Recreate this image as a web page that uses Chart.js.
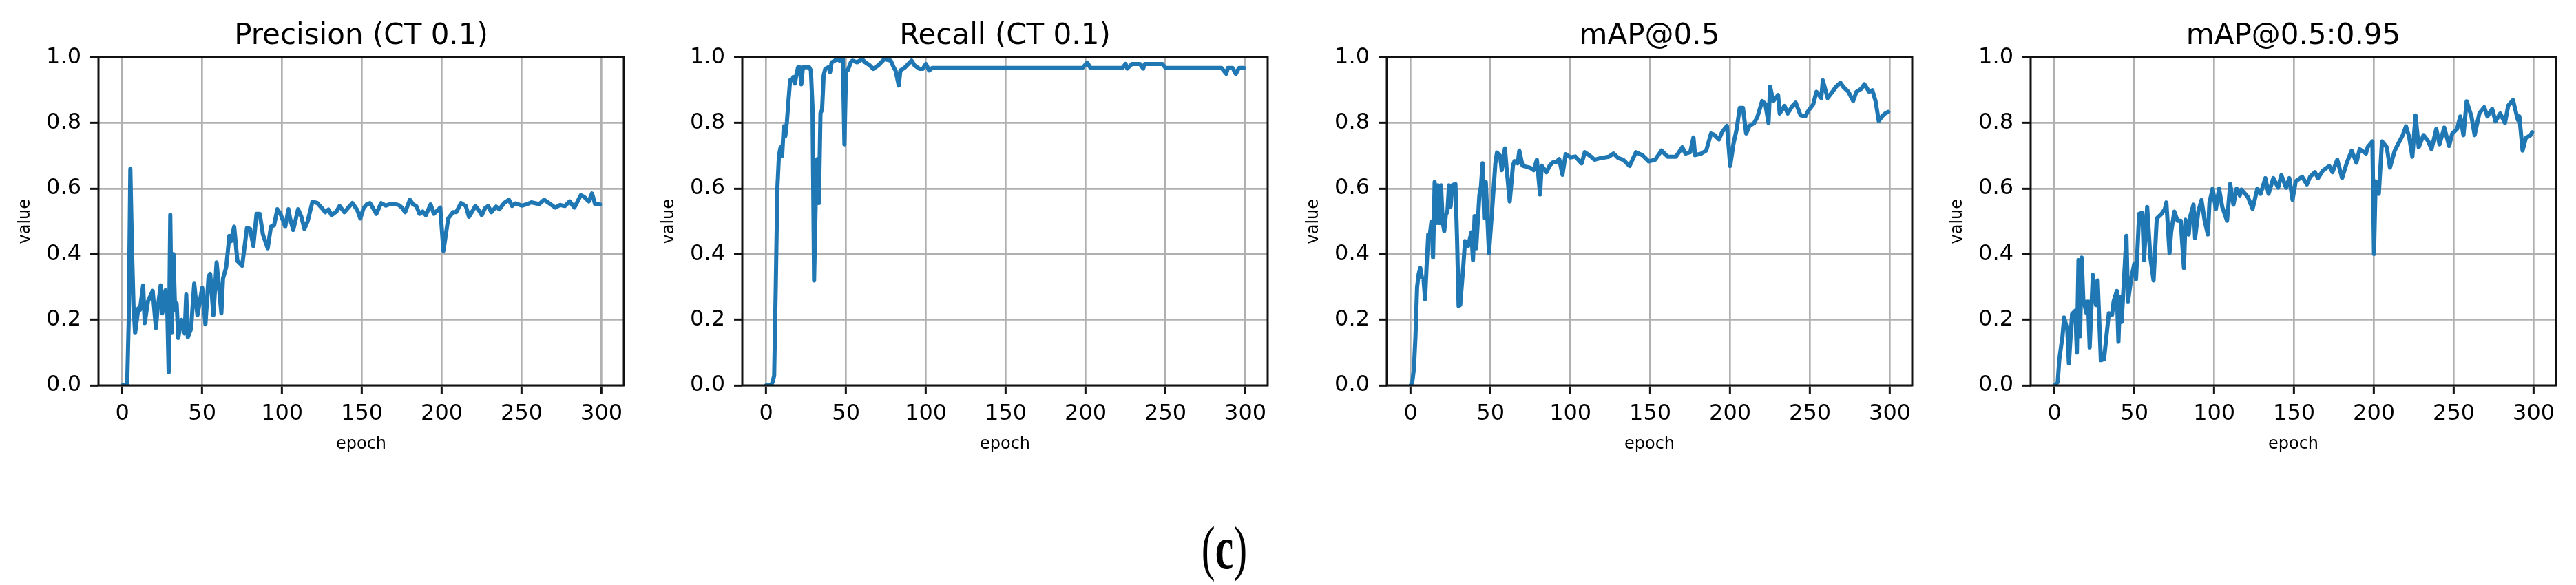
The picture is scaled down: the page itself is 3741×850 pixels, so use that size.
<!DOCTYPE html>
<html>
<head>
<meta charset="utf-8">
<script src="https://cdn.jsdelivr.net/npm/chart.js@4.4.1/dist/chart.umd.min.js"></script>
<style>
  body { margin: 0; background: #fff; width: 3741px; height: 850px; position: relative; overflow: hidden; }
  canvas { position: absolute; top: 0; }
  .caption {
    position: absolute; left: 1778px; top: 797px;
    transform: translate(-50%, -50%) scaleX(0.68);
    font-family: 'Liberation Serif', serif; font-size: 88px; color: #000; line-height: 1;
  }
  .caption b { font-weight: bold; }
</style>
</head>
<body>
<canvas id="p1" width="946" height="680" style="left:0px"></canvas>
<canvas id="p2" width="946" height="680" style="left:935px"></canvas>
<canvas id="p3" width="946" height="680" style="left:1871px"></canvas>
<canvas id="p4" width="946" height="680" style="left:2806px"></canvas>
<div class="caption">(<b>c</b>)</div>
<script>
// values, epoch -> value
const precisionEpochs = [0,1,2,3,4,5,6,7,8,10,11,13,14,16,19,21,22,24,25,27,28,29,30,31,32,33,34,35,37,39,40,41,43,45,47,50,52,54,55,57,59,62,63,65,67,68,70,72,75,78,80,82,84,86,88,91,93,95,97,99,102,104,105,107,110,112,114,116,119,122,125,127,129,131,134,136,139,142,144,147,149,151,153,155,157,159,162,165,167,171,173,175,177,180,182,184,186,188,190,193,195,198,199,201,204,207,209,212,215,217,219,221,223,225,227,229,231,234,236,239,242,244,246,248,250,253,256,258,261,264,267,271,274,277,280,283,287,289,292,294,296,299];
const precisionValues = [0,0,0,0,0.2,0.66,0.42,0.24,0.16,0.235,0.23,0.305,0.19,0.256,0.288,0.175,0.23,0.305,0.22,0.29,0.26,0.04,0.52,0.16,0.40,0.23,0.25,0.145,0.2,0.158,0.277,0.147,0.172,0.31,0.214,0.298,0.186,0.333,0.34,0.214,0.375,0.22,0.326,0.36,0.456,0.44,0.484,0.38,0.365,0.48,0.477,0.425,0.523,0.523,0.46,0.418,0.484,0.488,0.537,0.523,0.484,0.537,0.509,0.474,0.537,0.515,0.477,0.50,0.56,0.556,0.54,0.528,0.536,0.519,0.53,0.547,0.528,0.545,0.556,0.535,0.509,0.54,0.552,0.556,0.54,0.523,0.556,0.548,0.552,0.552,0.55,0.542,0.528,0.566,0.552,0.547,0.523,0.53,0.519,0.552,0.523,0.537,0.542,0.41,0.509,0.528,0.528,0.556,0.547,0.514,0.53,0.547,0.535,0.519,0.54,0.547,0.528,0.545,0.537,0.556,0.566,0.547,0.555,0.552,0.548,0.552,0.558,0.556,0.553,0.566,0.556,0.542,0.55,0.547,0.561,0.542,0.58,0.575,0.561,0.585,0.552,0.552];

const recallEpochs = [0,3,4,5,6,7,8,9,10,11,12,13,14,15,16,17,18,19,20,21,22,23,27,28,29,30,31,32,33,34,35,36,37,39,40,41,43,44,46,48,49,50,51,53,54,57,60,62,65,67,70,74,78,80,81,83,84,87,91,93,96,98,100,102,104,198,201,203,223,225,226,229,234,236,237,248,250,285,288,289,292,294,296,299];
const recallValues = [0,0,0.01,0.03,0.3,0.6,0.7,0.726,0.70,0.79,0.76,0.805,0.87,0.93,0.93,0.94,0.92,0.95,0.97,0.97,0.918,0.97,0.97,0.96,0.85,0.32,0.556,0.69,0.556,0.83,0.84,0.946,0.965,0.97,0.955,0.985,0.99,0.995,0.99,0.995,0.735,0.96,0.96,0.985,0.99,0.985,0.995,0.985,0.975,0.965,0.975,0.995,0.99,0.968,0.96,0.914,0.96,0.97,0.99,0.975,0.965,0.965,0.98,0.96,0.968,0.968,0.984,0.968,0.968,0.98,0.966,0.98,0.98,0.966,0.98,0.98,0.968,0.968,0.95,0.968,0.968,0.95,0.968,0.968];

const map50Epochs = [0,1,2,3,4,5,6,7,8,9,10,11,12,13,14,15,16,17,18,19,20,21,22,23,24,25,26,28,29,30,31,33,34,36,38,39,40,41,43,44,45,46,47,49,51,53,54,56,57,59,60,62,64,65,67,68,70,72,75,77,79,81,82,85,87,89,91,93,95,97,100,103,107,109,113,115,119,124,127,130,133,137,141,145,149,153,157,161,166,170,172,175,177,178,182,185,188,190,193,195,198,200,202,204,206,208,210,212,215,217,220,222,224,225,227,230,231,234,236,239,241,244,247,249,252,254,257,258,261,264,266,269,271,274,277,279,282,284,287,289,291,293,295,297,299];
const map50Values = [0,0.01,0.05,0.15,0.3,0.34,0.358,0.33,0.326,0.263,0.368,0.46,0.46,0.50,0.39,0.62,0.495,0.61,0.495,0.61,0.50,0.47,0.52,0.53,0.61,0.545,0.61,0.614,0.45,0.242,0.245,0.368,0.44,0.425,0.467,0.382,0.516,0.418,0.58,0.607,0.677,0.51,0.62,0.404,0.537,0.677,0.71,0.70,0.656,0.723,0.663,0.561,0.67,0.684,0.677,0.716,0.67,0.667,0.663,0.656,0.688,0.582,0.67,0.65,0.67,0.68,0.68,0.69,0.642,0.705,0.695,0.698,0.677,0.711,0.697,0.688,0.693,0.697,0.707,0.693,0.688,0.669,0.711,0.702,0.683,0.688,0.716,0.697,0.697,0.726,0.707,0.711,0.756,0.702,0.707,0.716,0.768,0.764,0.75,0.773,0.791,0.669,0.735,0.78,0.846,0.846,0.768,0.791,0.80,0.818,0.867,0.858,0.80,0.911,0.867,0.885,0.829,0.852,0.829,0.852,0.862,0.824,0.82,0.838,0.857,0.895,0.876,0.93,0.876,0.895,0.909,0.923,0.909,0.895,0.867,0.895,0.904,0.918,0.895,0.9,0.867,0.806,0.82,0.829,0.834];

const map5095Epochs = [0,2,3,5,6,8,9,10,11,13,14,15,16,17,18,20,21,22,24,26,27,29,31,34,36,37,39,40,41,42,44,45,46,48,50,51,53,55,56,58,60,62,64,67,69,70,72,73,75,77,79,81,82,84,85,87,88,90,92,94,96,97,99,101,103,105,108,110,112,114,116,117,121,124,127,129,132,134,137,140,142,145,147,149,151,155,158,160,163,165,168,172,174,177,180,183,186,189,191,195,196,199,200,201,203,205,208,210,213,215,218,220,222,224,226,228,231,234,236,239,241,244,247,249,252,254,256,258,261,263,266,269,271,274,276,279,282,284,287,290,291,293,295,298,299];
const map5095Values = [0,0.01,0.08,0.15,0.207,0.17,0.067,0.144,0.218,0.228,0.10,0.382,0.15,0.39,0.263,0.22,0.256,0.116,0.337,0.245,0.32,0.077,0.08,0.22,0.215,0.256,0.288,0.133,0.27,0.193,0.368,0.456,0.256,0.326,0.372,0.323,0.523,0.526,0.382,0.544,0.39,0.32,0.509,0.523,0.537,0.558,0.404,0.467,0.53,0.502,0.502,0.358,0.505,0.46,0.516,0.551,0.449,0.53,0.565,0.502,0.46,0.558,0.6,0.537,0.6,0.544,0.502,0.614,0.551,0.6,0.579,0.597,0.575,0.538,0.60,0.584,0.632,0.584,0.632,0.603,0.641,0.603,0.632,0.566,0.622,0.636,0.613,0.636,0.65,0.632,0.655,0.669,0.65,0.688,0.632,0.679,0.716,0.679,0.72,0.707,0.726,0.744,0.401,0.622,0.584,0.744,0.726,0.664,0.716,0.735,0.763,0.79,0.758,0.697,0.823,0.726,0.763,0.744,0.72,0.782,0.735,0.786,0.73,0.768,0.782,0.82,0.763,0.866,0.82,0.763,0.83,0.848,0.82,0.843,0.805,0.829,0.80,0.853,0.87,0.81,0.82,0.716,0.754,0.763,0.772];

const yTicks = [0, 0.2, 0.4, 0.6, 0.8, 1.0];
const xTicks = [0, 50, 100, 150, 200, 250, 300];

const FONT = "'DejaVu Sans', sans-serif";

// matplotlib style box round the plot
const framePlugin = {
  id: 'frame',
  afterDatasetsDraw(chart) {
    const { ctx, chartArea: a } = chart;
    ctx.save();
    ctx.strokeStyle = '#111';
    ctx.lineWidth = 3;
    ctx.strokeRect(a.left, a.top, a.right - a.left, a.bottom - a.top);
    ctx.restore();
  }
};

function makePanel(id, title, epochs, values) {
  const points = epochs.map((e, i) => ({ x: e, y: values[i] }));
  return new Chart(document.getElementById(id), {
    type: 'line',
    data: {
      datasets: [{
        data: points,
        borderColor: '#1f77b4',
        borderWidth: 6,
        pointRadius: 0,
        tension: 0,
        borderJoinStyle: 'round',
        borderCapStyle: 'round'
      }]
    },
    options: {
      responsive: false,
      animation: false,
      devicePixelRatio: 1,
      layout: { padding: { left: 0, right: 40, top: 0, bottom: 0 } },
      plugins: {
        legend: { display: false },
        tooltip: { enabled: false },
        title: {
          display: true,
          text: title,
          fullSize: false,
          color: '#000',
          font: { family: FONT, size: 42, weight: 'normal' },
          padding: { top: 28, bottom: 5 }
        }
      },
      scales: {
        x: {
          type: 'linear',
          min: -14.95,
          max: 313.95,
          afterFit: s => { s.height = 120; },
          afterBuildTicks: s => { s.ticks = xTicks.map(v => ({ value: v })); },
          ticks: { color: '#000', font: { family: FONT, size: 32 }, padding: 10, autoSkip: false, maxRotation: 0 },
          grid: { color: '#b0b0b0', lineWidth: 2.7, tickColor: '#111', tickWidth: 3, tickLength: 12 },
          border: { display: false },
          title: { display: true, text: 'epoch', color: '#000', font: { family: FONT, size: 24 }, padding: { top: 0, bottom: 20 } }
        },
        y: {
          min: 0,
          max: 1,
          afterFit: s => { s.width = 143; },
          afterBuildTicks: s => { s.ticks = yTicks.map(v => ({ value: v })); },
          ticks: { color: '#000', font: { family: FONT, size: 32 }, padding: 13, callback: v => v.toFixed(1) },
          grid: { color: '#b0b0b0', lineWidth: 2.7, tickColor: '#111', tickWidth: 3, tickLength: 12 },
          border: { display: false },
          title: { display: true, text: 'value', color: '#000', font: { family: FONT, size: 24 }, padding: { top: 22, bottom: 0 } }
        }
      }
    },
    plugins: [framePlugin]
  });
}

makePanel('p1', 'Precision (CT 0.1)', precisionEpochs, precisionValues);
makePanel('p2', 'Recall (CT 0.1)', recallEpochs, recallValues);
makePanel('p3', 'mAP@0.5', map50Epochs, map50Values);
makePanel('p4', 'mAP@0.5:0.95', map5095Epochs, map5095Values);
</script>
</body>
</html>
